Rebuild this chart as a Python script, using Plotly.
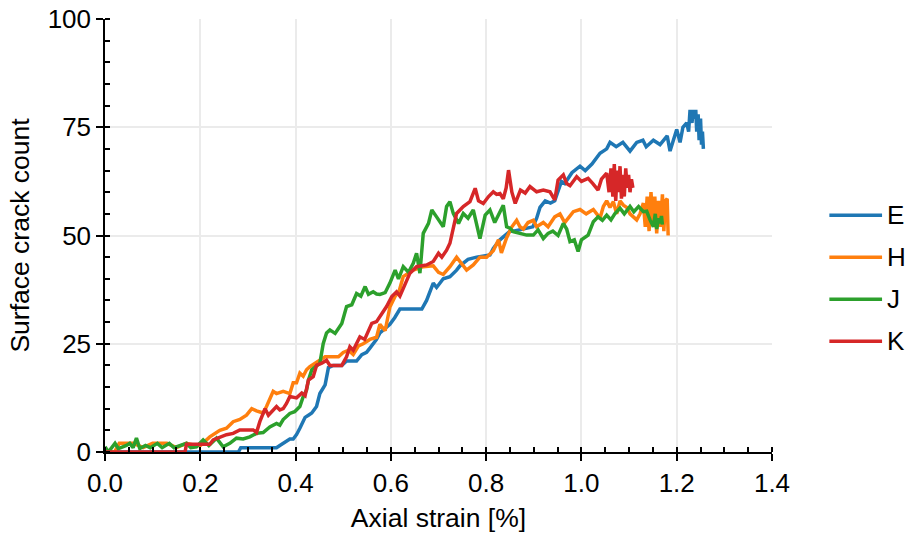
import plotly.graph_objects as go

# Axial strain [%] and surface crack count for each specimen
strain_E = [0.0, 0.16, 0.28, 0.285, 0.36, 0.367, 0.375, 0.388, 0.395, 0.402, 0.409, 0.42, 0.427, 0.434,
            0.444, 0.451, 0.462, 0.469, 0.479, 0.497, 0.507, 0.528, 0.539, 0.549, 0.556, 0.57, 0.577, 0.588,
            0.598, 0.608, 0.619, 0.665, 0.675, 0.689, 0.696, 0.71, 0.724, 0.738, 0.745, 0.762, 0.78, 0.808,
            0.815, 0.829, 0.85, 0.857, 0.878, 0.898, 0.906, 0.913, 0.924, 0.935, 0.944, 0.958, 0.965, 0.98,
            0.997, 1.008, 1.022, 1.039, 1.053, 1.06, 1.073, 1.087, 1.102, 1.116, 1.129, 1.136, 1.151, 1.165,
            1.18, 1.186, 1.2, 1.207, 1.213, 1.221, 1.225, 1.228, 1.232, 1.235, 1.238, 1.24, 1.242, 1.245,
            1.247, 1.25, 1.252, 1.254, 1.256]
count_E = [0, 0, 0, 1, 1, 1.5, 2, 3, 3, 4, 5.5, 8, 8.5, 9,
           10.5, 13.5, 15.5, 19.5, 20, 20, 21, 21, 22.5, 23, 24, 26, 27.5, 28.5,
           29.5, 31, 33, 33, 35, 39, 38, 40, 40.5, 42, 43, 44.5, 45, 45.5,
           47, 49, 51, 51, 51.5, 52, 54, 56.5, 58, 57.5, 58, 62.5, 62, 64.5,
           66, 65, 66.5, 69, 70, 71.5, 70.5, 71.5, 69.5, 71.5, 72, 70.5, 72, 71,
           73, 69.5, 74.5, 71.5, 75, 76, 74, 79, 76, 79, 77, 79, 74, 78,
           72, 77, 71, 74, 70]

strain_H = [0.0, 0.02, 0.03, 0.06, 0.08, 0.1, 0.13, 0.15, 0.171, 0.19, 0.2, 0.21, 0.22, 0.241,
            0.255, 0.269, 0.283, 0.297, 0.308, 0.318, 0.332, 0.339, 0.353, 0.36, 0.374, 0.388, 0.395, 0.402,
            0.409, 0.416, 0.423, 0.43, 0.441, 0.451, 0.462, 0.49, 0.5, 0.511, 0.521, 0.532, 0.542, 0.556,
            0.57, 0.577, 0.588, 0.598, 0.609, 0.617, 0.626, 0.647, 0.668, 0.689, 0.7, 0.71, 0.724, 0.738,
            0.749, 0.759, 0.773, 0.787, 0.801, 0.815, 0.826, 0.832, 0.843, 0.854, 0.864, 0.871, 0.878, 0.888,
            0.899, 0.906, 0.92, 0.93, 0.944, 0.955, 0.965, 0.983, 0.997, 1.01, 1.025, 1.039, 1.046, 1.053,
            1.06, 1.067, 1.074, 1.081, 1.088, 1.095, 1.102, 1.109, 1.116, 1.123, 1.13, 1.134, 1.138, 1.142,
            1.146, 1.15, 1.154, 1.158, 1.162, 1.166, 1.17, 1.173, 1.176, 1.18, 1.182]
count_H = [0, 0, 2, 2, 1, 2, 2, 1, 2, 1.5, 1.5, 2.5, 3.5, 5,
           5.5, 7, 7.5, 8.5, 10, 9.5, 9, 10.5, 14, 13.5, 14, 13.5, 16, 16,
           18.2, 17.5, 19, 19.7, 20.5, 21, 22, 22, 23, 23.5, 22.5, 24.5, 25, 26,
           26.5, 29.5, 28, 33.5, 36, 37, 40.5, 42, 42.8, 43, 41.5, 41, 42.8, 45,
           43.5, 42, 43.2, 45, 45, 46.5, 49, 46, 49.5, 52, 53.5, 52, 51.5, 53,
           53.5, 52, 53, 52, 54.3, 55, 53, 55.5, 56, 55, 56, 54, 56.7, 58,
           56.5, 57.8, 55, 58, 57, 56.5, 55, 54.3, 53.6, 55, 57.5, 52, 59, 51,
           60, 53, 59, 50.5, 58, 52, 59.5, 51, 58, 58.5, 50]

strain_J = [0.0, 0.007, 0.021, 0.028, 0.045, 0.052, 0.059, 0.066, 0.073, 0.085, 0.095, 0.11, 0.12, 0.135,
            0.145, 0.16, 0.171, 0.18, 0.192, 0.206, 0.218, 0.234, 0.248, 0.262, 0.276, 0.29, 0.304, 0.318,
            0.332, 0.346, 0.36, 0.367, 0.374, 0.388, 0.398, 0.409, 0.416, 0.423, 0.427, 0.434, 0.441, 0.451,
            0.458, 0.465, 0.472, 0.483, 0.497, 0.507, 0.518, 0.528, 0.537, 0.546, 0.553, 0.563, 0.57, 0.577,
            0.588, 0.598, 0.609, 0.616, 0.626, 0.637, 0.647, 0.654, 0.661, 0.668, 0.679, 0.686, 0.696, 0.703,
            0.71, 0.717, 0.724, 0.731, 0.742, 0.752, 0.762, 0.773, 0.782, 0.787, 0.798, 0.808, 0.818, 0.826,
            0.836, 0.843, 0.85, 0.857, 0.871, 0.885, 0.899, 0.909, 0.92, 0.93, 0.94, 0.951, 0.962, 0.969,
            0.976, 0.985, 0.993, 1.0, 1.014, 1.025, 1.035, 1.044, 1.053, 1.062, 1.07, 1.081, 1.09, 1.102,
            1.11, 1.12, 1.13, 1.137, 1.144, 1.151, 1.155, 1.158, 1.162, 1.165, 1.168, 1.17]
count_J = [1.2, 0, 2, 0.8, 1.5, 2, 1, 3.2, 0.8, 1.5, 1, 2, 1, 2,
           1, 1.5, 2, 1, 1.2, 2.8, 1.5, 3.2, 1.2, 2, 3.2, 3, 3.5, 4.3,
           4.5, 5.8, 6.6, 6.2, 7.5, 8.9, 9.3, 10.5, 12.8, 14.3, 16.6, 19, 19.7, 20.5,
           25, 27.5, 28.2, 27.4, 29.7, 33.6, 34, 36.6, 36, 38.2, 36.4, 37, 36.5, 36.4,
           36.8, 39, 42, 40, 42.8, 41.5, 43.6, 45.9, 41.3, 50.5, 52.8, 55.9, 54.3, 53,
           52, 56.7, 57.8, 55.1, 52.8, 55.1, 54, 55.9, 52, 49.3, 54.7, 55.9, 53, 55,
           57, 52, 51.7, 50.9, 50.5, 50.1, 50.1, 51.3, 49.3, 50.5, 51, 50, 52.8, 51.5,
           48.6, 49, 46.3, 49, 50.1, 53.2, 54.3, 53.5, 54.7, 53.6, 55, 56.3, 55, 56.7,
           55.5, 56.7, 55.5, 55.6, 53.6, 52, 55, 51.5, 54, 52.8, 54.5, 52.5]

strain_K = [0.0, 0.168, 0.171, 0.22, 0.227, 0.241, 0.255, 0.269, 0.283, 0.311, 0.318, 0.325, 0.336, 0.343,
            0.353, 0.36, 0.367, 0.374, 0.381, 0.388, 0.402, 0.413, 0.42, 0.427, 0.437, 0.444, 0.455, 0.465,
            0.472, 0.497, 0.507, 0.514, 0.521, 0.535, 0.545, 0.553, 0.56, 0.57, 0.581, 0.591, 0.602, 0.612,
            0.619, 0.63, 0.64, 0.654, 0.675, 0.689, 0.7, 0.707, 0.717, 0.724, 0.731, 0.738, 0.752, 0.766,
            0.777, 0.784, 0.794, 0.805, 0.815, 0.822, 0.829, 0.836, 0.842, 0.847, 0.854, 0.861, 0.872, 0.882,
            0.892, 0.906, 0.92, 0.934, 0.944, 0.951, 0.962, 0.969, 0.976, 0.99, 1.0, 1.014, 1.024, 1.035,
            1.042, 1.053, 1.058, 1.062, 1.066, 1.069, 1.072, 1.075, 1.078, 1.081, 1.084, 1.087, 1.09, 1.093,
            1.096, 1.099, 1.102, 1.105, 1.108]
count_K = [0, 0, 1.8, 1.8, 2.8, 3.5, 4, 4.3, 5.1, 5.1, 4.5, 7, 10, 8.5,
           9.7, 10.5, 9.7, 10, 11.2, 12.8, 12.5, 13.6, 13, 16.6, 17.4, 20, 20.5, 21.2,
           20, 20, 22, 24.3, 23.5, 26.6, 26, 27.8, 29.7, 30.1, 32, 33.6, 35.9, 37,
           36, 39, 41.3, 42.8, 43.2, 44, 45.9, 45, 46.6, 48.2, 52, 55.1, 56.7, 57.8,
           60.9, 58, 57.4, 59, 60.1, 59.5, 59.7, 58.5, 61, 65.1, 60, 57.4, 60.5, 59.8,
           61.3, 60.1, 60.5, 60.1, 58.2, 62.8, 64, 62, 61.5, 63.6, 62.5, 63.2, 62, 60.5,
           63, 64.4, 60, 65.5, 59, 66.5, 58, 65, 60, 66, 58.5, 64, 59, 65.5,
           61, 64, 60, 63, 61]

specimens = ["E", "H", "J", "K"]
colors = ["#1f77b4", "#ff7f0e", "#2ca02c", "#d62728"]
series = [(strain_E, count_E), (strain_H, count_H), (strain_J, count_J), (strain_K, count_K)]

LINE_W = 3.5
FONT = "Liberation Sans, Arial, sans-serif"
tick_font = dict(family=FONT, size=26, color="black")
title_font = dict(family=FONT, size=26.5, color="black")

fig = go.Figure()
for name, color, (xs, ys) in zip(specimens, colors, series):
    fig.add_trace(go.Scatter(x=xs, y=ys, mode="lines", name=name, showlegend=False,
                             line=dict(color=color, width=LINE_W)))

# empty trace so the overlay axes (inner half of the major ticks) get drawn
fig.add_trace(go.Scatter(x=[None], y=[None], xaxis="x2", yaxis="y2",
                         showlegend=False, hoverinfo="skip"))

# key on the right: long line swatch followed by the specimen letter
key_top, key_step = 0.547, 0.097
shapes, annotations = [], []
for i, (name, color) in enumerate(zip(specimens, colors)):
    ky = key_top - i * key_step
    shapes.append(dict(type="line", xref="paper", yref="paper",
                       x0=1.086, x1=1.165, y0=ky, y1=ky,
                       line=dict(color=color, width=LINE_W)))
    annotations.append(dict(text=name, xref="paper", yref="paper", x=1.169, y=ky,
                            xanchor="left", yanchor="middle", showarrow=False,
                            font=dict(family=FONT, size=26, color="black")))

fig.update_layout(
    width=906, height=533,
    margin=dict(l=105, r=134, t=19, b=81),
    paper_bgcolor="white", plot_bgcolor="white",
    font=tick_font,
    showlegend=False,
    shapes=shapes,
    annotations=annotations,
    xaxis=dict(range=[0, 1.4], tick0=0, dtick=0.2, tickformat=".1f",
               ticks="outside", ticklen=7, tickwidth=1.5, tickcolor="black",
               tickfont=tick_font, automargin=False,
               showline=True, linewidth=1.5, linecolor="black",
               showgrid=True, gridcolor="#ebebeb", gridwidth=2, zeroline=False,
               minor=dict(dtick=0.05, ticks="inside", ticklen=5, tickwidth=1.5,
                          tickcolor="black", showgrid=False),
               title=dict(text="Axial strain [%]", font=title_font, standoff=11)),
    yaxis=dict(range=[0, 100], tick0=0, dtick=25,
               ticks="outside", ticklen=7, tickwidth=1.5, tickcolor="black",
               tickfont=tick_font, automargin=False,
               showline=True, linewidth=1.5, linecolor="black",
               showgrid=True, gridcolor="#ebebeb", gridwidth=2, zeroline=False,
               minor=dict(dtick=5, ticks="inside", ticklen=5, tickwidth=1.5,
                          tickcolor="black", showgrid=False),
               title=dict(text="Surface crack count", font=title_font, standoff=10)),
    xaxis2=dict(overlaying="x", anchor="y", range=[0, 1.4], tick0=0, dtick=0.2,
                ticks="inside", ticklen=5, tickwidth=1.5, tickcolor="black",
                showticklabels=False, showgrid=False, showline=False, zeroline=False),
    yaxis2=dict(overlaying="y", anchor="x", range=[0, 100], tick0=0, dtick=25,
                ticks="inside", ticklen=5, tickwidth=1.5, tickcolor="black",
                showticklabels=False, showgrid=False, showline=False, zeroline=False),
)

fig.write_html("out.html")
